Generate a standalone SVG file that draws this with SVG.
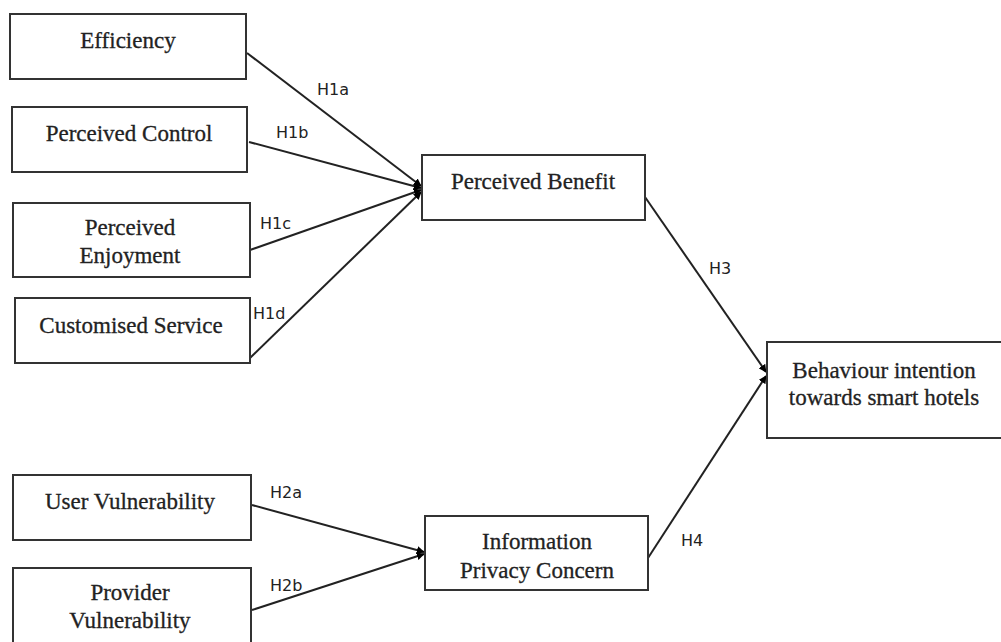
<svg xmlns="http://www.w3.org/2000/svg" width="1001" height="642" viewBox="0 0 1001 642">
  <defs>
    <marker id="arrow" viewBox="0 0 10 10" refX="9" refY="5" markerWidth="8" markerHeight="8" markerUnits="userSpaceOnUse" orient="auto">
      <path d="M0,0 L10,5 L0,10 z" fill="#000"/>
    </marker>
    <style>
      .box { fill: #fff; stroke: #333; stroke-width: 2; }
      .lbl { font-family: "Liberation Serif", "Times New Roman", serif; font-size: 23px; fill: #222; stroke: #222; stroke-width: 0.3; text-anchor: middle; }
      .hyp { font-family: "DejaVu Sans", "Liberation Sans", sans-serif; font-size: 16px; fill: #222; }
      .edge { stroke: #222; stroke-width: 2; fill: none; marker-end: url(#arrow); }
    </style>
  </defs>
  <rect width="1001" height="642" fill="#fff"/>

  <g id="connectors">
    <line class="edge" x1="247" y1="53" x2="421" y2="186"/>
    <line class="edge" x1="249" y1="142" x2="421" y2="188"/>
    <line class="edge" x1="250" y1="250" x2="421" y2="190"/>
    <line class="edge" x1="250" y1="358" x2="421" y2="192"/>
    <line class="edge" x1="645" y1="197" x2="766" y2="372"/>
    <line class="edge" x1="648" y1="558" x2="766" y2="376"/>
    <line class="edge" x1="252" y1="505" x2="424" y2="552"/>
    <line class="edge" x1="252" y1="610" x2="424" y2="554"/>
    <text class="hyp" x="317" y="95">H1a</text>
    <text class="hyp" x="276" y="138">H1b</text>
    <text class="hyp" x="260" y="229">H1c</text>
    <text class="hyp" x="253" y="319">H1d</text>
    <text class="hyp" x="709" y="274">H3</text>
    <text class="hyp" x="681" y="546">H4</text>
    <text class="hyp" x="270" y="498">H2a</text>
    <text class="hyp" x="270" y="591">H2b</text>
  </g>

  <g id="efficiency">
    <rect class="box" x="10" y="14" width="236" height="65"/>
    <text class="lbl" x="128" y="48">Efficiency</text>
  </g>
  <g id="perceived-control">
    <rect class="box" x="12" y="107" width="235" height="65"/>
    <text class="lbl" x="129" y="141">Perceived Control</text>
  </g>
  <g id="perceived-enjoyment">
    <rect class="box" x="13" y="203" width="237" height="74"/>
    <text class="lbl" x="130" y="235">Perceived</text>
    <text class="lbl" x="130" y="263">Enjoyment</text>
  </g>
  <g id="customised-service">
    <rect class="box" x="15" y="298" width="235" height="65"/>
    <text class="lbl" x="131" y="333">Customised Service</text>
  </g>
  <g id="perceived-benefit">
    <rect class="box" x="422" y="155" width="223" height="65"/>
    <text class="lbl" x="533" y="189">Perceived Benefit</text>
  </g>
  <g id="behaviour-intention">
    <rect class="box" x="767" y="342" width="240" height="96"/>
    <text class="lbl" x="884" y="378">Behaviour intention</text>
    <text class="lbl" x="884" y="405">towards smart hotels</text>
  </g>
  <g id="user-vulnerability">
    <rect class="box" x="13" y="475" width="238" height="65"/>
    <text class="lbl" x="130" y="509">User Vulnerability</text>
  </g>
  <g id="provider-vulnerability">
    <rect class="box" x="13" y="568" width="238" height="80"/>
    <text class="lbl" x="130" y="600">Provider</text>
    <text class="lbl" x="130" y="628">Vulnerability</text>
  </g>
  <g id="information-privacy-concern">
    <rect class="box" x="425" y="516" width="223" height="74"/>
    <text class="lbl" x="537" y="549">Information</text>
    <text class="lbl" x="537" y="578">Privacy Concern</text>
  </g>
</svg>
